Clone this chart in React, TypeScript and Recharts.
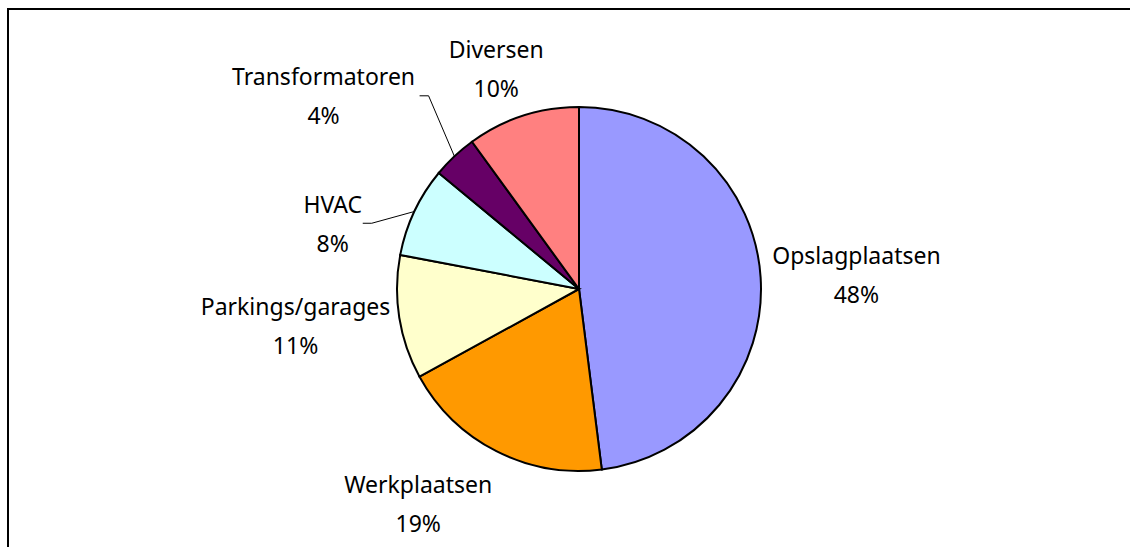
import { PieChart, Pie, Cell } from 'recharts';

const categories = [
  'Opslagplaatsen',
  'Werkplaatsen',
  'Parkings/garages',
  'HVAC',
  'Transformatoren',
  'Diversen',
];
const shares = [48, 19, 11, 8, 4, 10];
const colors = ['#9999FF', '#FF9900', '#FFFFCC', '#CCFFFF', '#660066', '#FF8080'];

// hand-tuned offsets to mimic Excel's "best fit" label placement
const labelNudges = [
  [0, -1],
  [-40, 16],
  [3, 2],
  [-49, 29],
  [-61, -31],
  [-8, -9],
];
const hasLeader = [false, false, false, true, true, false];

const data = categories.map((name, i) => ({ name, value: shares[i] }));

const RAD = Math.PI / 180;
const FONT = "'Noto Sans', sans-serif";

function renderLabel(props: any) {
  const { cx, cy, midAngle, outerRadius, index, name, value } = props;
  const dx = Math.cos(-midAngle * RAD);
  const dy = Math.sin(-midAngle * RAD);
  const halfW = name.length * 6;
  const halfH = 28.5;
  const [nx, ny] = labelNudges[index];
  const lx = cx + dx * (outerRadius + 12) + dx * halfW + nx;
  const ly = cy + dy * (outerRadius + 12) + dy * halfH + ny;

  const ex = cx + dx * outerRadius;
  const ey = cy + dy * outerRadius;
  const t0 = lx + halfW + 6;
  const t1 = t0 + 9;

  return (
    <g key={`lbl-${index}`}>
      {hasLeader[index] && (
        <polyline
          points={`${t0},${ly} ${t1},${ly} ${ex},${ey}`}
          fill="none"
          stroke="#000"
          strokeWidth={1}
        />
      )}
      <text x={lx} y={ly - 10.5} textAnchor="middle" fontFamily={FONT} fontSize={23} fill="#000">
        {name}
      </text>
      <text x={lx} y={ly + 28.5} textAnchor="middle" fontFamily={FONT} fontSize={23} fill="#000">
        {`${value}%`}
      </text>
    </g>
  );
}

export default function App() {
  return (
    <div
      style={{
        position: 'fixed',
        left: 0,
        top: 0,
        width: 1130,
        height: 547,
        overflow: 'hidden',
        background: '#fff',
      }}
    >
      <svg
        width={1130}
        height={547}
        style={{ position: 'absolute', left: 0, top: 0 }}
      >
        <path d="M8,560 L8,9 L1140,9" fill="none" stroke="#000" strokeWidth={2} />
      </svg>
      <div style={{ position: 'absolute', left: 0, top: 0 }}>
        <PieChart width={1130} height={547} margin={{ top: 0, right: 0, bottom: 0, left: 0 }}>
          <Pie
            data={data}
            dataKey="value"
            nameKey="name"
            cx={579}
            cy={289}
            outerRadius={182}
            startAngle={90}
            endAngle={-270}
            stroke="#000"
            strokeWidth={2}
            label={renderLabel}
            labelLine={false}
            isAnimationActive={false}
          >
            {data.map((d, i) => (
              <Cell key={d.name} fill={colors[i]} />
            ))}
          </Pie>
        </PieChart>
      </div>
    </div>
  );
}
